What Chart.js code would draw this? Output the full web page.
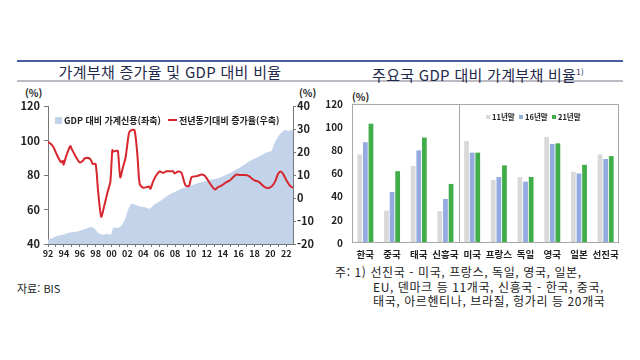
<!DOCTYPE html>
<html lang="ko">
<head>
<meta charset="utf-8">
<script src="https://cdn.jsdelivr.net/npm/chart.js@4.4.1/dist/chart.umd.min.js"></script>
<style>
    html, body { margin: 0; padding: 0; background: #fff; }
    body { width: 640px; height: 360px; position: relative; overflow: hidden;
           font-family: "Noto Sans CJK KR", "Noto Sans", sans-serif; color: #222; }
    .abs { position: absolute; white-space: nowrap; }
    .rule-top { left: 17px; width: 606px; top: 60px; height: 2px; background: #4b5b9b; }
    .rule-bot { left: 17px; width: 606px; top: 80px; height: 2px; background: #bcbcc4; }
    .title { top: 62px; line-height: 19px; font-size: 15px; letter-spacing: 0.3px; color: #1f2a4a; transform: translateX(-50%); }
    .title sup { font-size: 8px; vertical-align: 6px; }
    .unit { font-size: 10px; font-weight: bold; line-height: 12px; color: #222; }
    .lg { font-size: 9px; font-weight: bold; line-height: 11px; color: #222; }
    .note { font-size: 12px; letter-spacing: 0.6px; line-height: 14.5px; color: #222; }
    canvas { position: absolute; }
</style>
</head>
<body>
<div class="abs rule-top"></div>
<div class="abs rule-bot"></div>
<div class="abs title" style="left:170px">가계부채 증가율 및 GDP 대비 비율</div>
<div class="abs title" style="left:478px">주요국 GDP 대비 가계부채 비율<sup>1)</sup></div>

<div class="abs unit" style="left:25px; top:87px">(%)</div>
<div class="abs unit" style="left:299px; top:87px">(%)</div>
<div class="abs unit" style="left:352px; top:91px">(%)</div>

<canvas id="chartDeuda" width="320" height="174" style="left:0; top:88px; width:320px; height:174px"></canvas>
<canvas id="chartPaises" width="320" height="174" style="left:320px; top:88px; width:320px; height:174px"></canvas>

<!-- leyendas -->
<div class="abs lg" style="left:55px; top:115px"><span style="display:inline-block;width:7px;height:7px;background:#c3d3e9;margin-right:2px"></span>GDP 대비 가계신용(좌축)</div>
<div class="abs lg" style="left:168px; top:115px"><span style="display:inline-block;width:9px;height:2px;background:#d7262d;vertical-align:3px;margin-right:2px"></span>전년동기대비 증가율(우축)</div>

<div class="abs lg" style="left:486px; top:111px; font-size:7.5px">
    <span style="display:inline-block;width:4px;height:4px;background:#d9d9d9;vertical-align:1px"></span> 11년말&nbsp;
    <span style="display:inline-block;width:4px;height:4px;background:#94abdf;vertical-align:1px"></span> 16년말&nbsp;
    <span style="display:inline-block;width:4px;height:4px;background:#41ad4a;vertical-align:1px"></span> 21년말
</div>

<div class="abs note" style="left:17px; top:281px; font-size:11px; letter-spacing:0">자료: BIS</div>
<div class="abs note" style="left:335px; top:265px">주: 1) 선진국 - 미국, 프랑스, 독일, 영국, 일본,</div>
<div class="abs note" style="left:373px; top:279.5px">EU, 덴마크 등 11개국, 신흥국 - 한국, 중국,</div>
<div class="abs note" style="left:373px; top:294px">태국, 아르헨티나, 브라질, 헝가리 등 20개국</div>

<script>
// ── Datos: GDP 대비 가계신용 (좌축, %) ──
const creditYears  = [1992.0, 1992.6, 1993.2, 1993.9, 1994.5, 1995.1, 1995.7, 1996.4, 1997.0, 1997.4, 1997.8,
                      1998.3, 1998.9, 1999.5, 1999.95, 2000.2, 2000.8, 2001.2, 2001.7, 2002.1, 2002.5, 2002.9,
                      2003.5, 2004.2, 2004.8, 2005.4, 2006.1, 2006.7, 2007.3, 2008.6, 2009.8, 2011.1, 2012.4,
                      2013.6, 2014.9, 2016.15, 2016.8, 2017.4, 2018.7, 2019.5, 2020.15, 2020.56, 2021.2,
                      2021.8, 2022.2, 2022.85];
const creditValues = [42.5, 43.5, 44.8, 45.4, 46.4, 46.8, 47.3, 48.3, 49.3, 49.9, 49.3,
                      46.4, 45.4, 45.8, 45.4, 49.3, 49.3, 50.3, 54.2, 60.0, 63.3, 62.9,
                      61.9, 61.3, 60.4, 62.9, 64.8, 66.8, 68.7, 71.6, 73.6, 75.5, 77.1,
                      78.4, 81.0, 84.3, 86.2, 88.1, 91.0, 93.0, 94.0, 98.8, 103.7,
                      106.2, 105.6, 106.2];

// ── Datos: 전년동기대비 증가율 (우축, %) ──
const growthYears  = [1992.0, 1992.6, 1993.0, 1993.45, 1993.66, 1993.87, 1993.96, 1994.3, 1994.8, 1995.0, 1995.56,
                      1996.0, 1996.4, 1996.6, 1997.2, 1997.45, 1997.65, 1998.0, 1998.3, 1998.7, 1999.1, 1999.55,
                      1999.85, 2000.1, 2000.26, 2000.6, 2000.8, 2001.1, 2001.43, 2001.77, 2002.2, 2002.5, 2002.9,
                      2003.25, 2003.54, 2003.96, 2004.4, 2004.7, 2004.9, 2005.2, 2005.6, 2006.06, 2006.5, 2006.9,
                      2007.1, 2007.74, 2007.95, 2008.37, 2008.8, 2009.1, 2009.34, 2009.76, 2010.06, 2010.5, 2010.9,
                      2011.3, 2011.74, 2012.03, 2012.58, 2013.0, 2013.4, 2013.84, 2014.26, 2014.47, 2014.89, 2015.3,
                      2015.73, 2016.15, 2016.78, 2017.2, 2017.62, 2018.04, 2018.46, 2018.9, 2019.3, 2019.72, 2020.15,
                      2020.56, 2020.98, 2021.28, 2021.6, 2022.04, 2022.45, 2022.85];
const growthValues = [24.5, 22.6, 19.7, 16.5, 15.5, 16.2, 14.5, 18.3, 22.6, 21.2, 17.6,
                      15.5, 16.2, 17.2, 17.3, 16.2, 14.8, 14.8, 3.3, -8.1, -3.1, 3.3,
                      6.9, 20.8, 20.2, 20.5, 20.5, 9.0, 13.3, 17.6, 28.3, 29.5, 29.5,
                      19.0, 6.2, 4.5, 4.7, 5.0, 4.0, 6.9, 9.7, 11.5, 10.9, 11.6,
                      11.6, 11.6, 10.7, 11.5, 11.0, 7.6, 5.4, 5.2, 9.0, 9.4, 9.7,
                      10.2, 9.7, 8.3, 5.4, 3.7, 4.7, 5.4, 6.4, 6.9, 7.6, 9.0,
                      10.2, 10.0, 10.0, 9.7, 8.6, 7.6, 7.2, 5.9, 4.7, 4.3, 5.0,
                      6.9, 10.5, 11.5, 10.5, 7.6, 5.4, 4.4];

// ── Datos: 주요국 GDP 대비 가계부채 비율 ──
const countries   = ['한국', '중국', '태국', '신흥국', '미국', '프랑스', '독일', '영국', '일본', '선진국'];
const seriesNames = ['11년말', '16년말', '21년말'];
const ratio11 = [76.5, 28, 66.5, 27.5, 88, 54.5, 57, 91.5, 61.5, 76.5];
const ratio16 = [87, 44, 80, 38, 78, 57, 53, 85.5, 60, 72.5];
const ratio21 = [103, 62, 91, 51, 78, 67, 57, 86, 67.5, 75];

const KR = '"Noto Sans CJK KR", "Noto Sans", sans-serif';
const tickFont = size => ({ family: KR, size: size, weight: 'bold' });

// ── Gráfico izquierdo: área + línea ──
new Chart(document.getElementById('chartDeuda').getContext('2d'), {
    type: 'line',
    data: {
        datasets: [{
            label: '전년동기대비 증가율(우축)',
            data: growthYears.map((x, i) => ({ x: x, y: growthValues[i] })),
            yAxisID: 'yR',
            borderColor: '#d7262d',
            borderWidth: 2,
            pointRadius: 0,
            tension: 0.25,
            fill: false,
            order: 0
        }, {
            label: 'GDP 대비 가계신용(좌축)',
            data: creditYears.map((x, i) => ({ x: x, y: creditValues[i] })),
            yAxisID: 'yL',
            borderWidth: 0,
            backgroundColor: '#c3d3e9',
            pointRadius: 0,
            tension: 0.1,
            fill: 'start',
            order: 1
        }]
    },
    options: {
        responsive: false,
        animation: false,
        layout: { padding: { top: 18, left: 0, right: 0, bottom: 0 } },
        plugins: { legend: { display: false }, tooltip: { enabled: false } },
        scales: {
            x: {
                type: 'linear', min: 1992, max: 2022.85,
                afterFit: s => { s.height = 18; },
                grid: { display: true, drawOnChartArea: false, tickLength: 3, color: '#777' },
                border: { color: '#777' },
                ticks: {
                    stepSize: 1, autoSkip: false, includeBounds: false, maxRotation: 0,
                    padding: 1, color: '#222', font: tickFont(9),
                    callback: v => (v % 2 === 0 ? String(v % 100).padStart(2, '0') : '')
                }
            },
            yL: {
                position: 'left', min: 40, max: 120,
                afterFit: s => { s.width = 48; },
                grid: { display: true, drawOnChartArea: false, tickLength: 4, color: '#777' },
                border: { color: '#777' },
                ticks: { stepSize: 20, padding: 4, color: '#222', font: tickFont(11) }
            },
            yR: {
                position: 'right', min: -20, max: 40,
                afterFit: s => { s.width = 27; },
                grid: { display: true, drawOnChartArea: false, tickLength: 3, color: '#777' },
                border: { color: '#777' },
                ticks: { stepSize: 10, padding: 1, color: '#222', font: tickFont(11) }
            }
        }
    }
});

// ── Plugin: marco y separador 신흥국 | 선진국 ──
const marcoPlugin = {
    id: 'marco',
    afterDatasetsDraw(chart) {
        const { ctx, chartArea: a, scales: { x } } = chart;
        ctx.save();
        ctx.strokeStyle = '#a8a8a8';
        ctx.lineWidth = 1;
        ctx.strokeRect(a.left + 0.5, a.top + 0.5, a.right - a.left - 1, a.bottom - a.top - 1);
        const sep = Math.round((x.getPixelForValue(3) + x.getPixelForValue(4)) / 2) + 0.5;
        ctx.beginPath();
        ctx.moveTo(sep, a.top);
        ctx.lineTo(sep, a.bottom);
        ctx.stroke();
        ctx.restore();
    }
};

// ── Gráfico derecho: barras agrupadas ──
new Chart(document.getElementById('chartPaises').getContext('2d'), {
    type: 'bar',
    data: {
        labels: countries,
        datasets: [
            { label: seriesNames[0], data: ratio11, backgroundColor: '#d9d9d9' },
            { label: seriesNames[1], data: ratio16, backgroundColor: '#94abdf' },
            { label: seriesNames[2], data: ratio21, backgroundColor: '#41ad4a' }
        ]
    },
    options: {
        responsive: false,
        animation: false,
        layout: { padding: { top: 16, left: 0, right: 21, bottom: 0 } },
        datasets: { bar: { categoryPercentage: 0.63, barPercentage: 0.85 } },
        plugins: { legend: { display: false }, tooltip: { enabled: false } },
        scales: {
            x: {
                afterFit: s => { s.height = 19; },
                grid: { display: false, drawTicks: false },
                border: { display: false },
                ticks: { padding: 6, color: '#222', font: tickFont(9.5), maxRotation: 0, autoSkip: false }
            },
            y: {
                min: 0, max: 120,
                afterFit: s => { s.width = 32; },
                grid: { display: false, drawTicks: false },
                border: { display: false },
                ticks: { stepSize: 20, padding: 9, color: '#222', font: tickFont(10) }
            }
        }
    },
    plugins: [marcoPlugin]
});
</script>
</body>
</html>
